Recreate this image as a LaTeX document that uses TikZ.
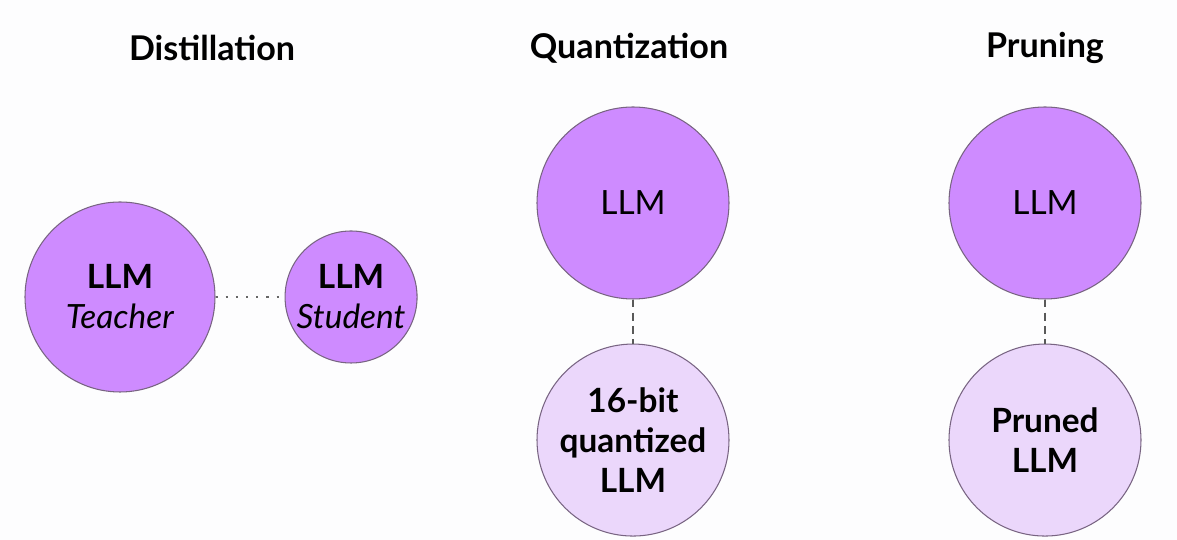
\documentclass[tikz,border=0pt]{standalone}
\usepackage{fontspec}
\setsansfont{Lato}
\RequirePackage{xcolor}
\definecolor{llmdark}{RGB}{206,139,255}
\definecolor{llmlight}{RGB}{235,215,251}
\definecolor{llmline}{RGB}{120,100,130}
\definecolor{bgwhite}{RGB}{253,253,254}
\tikzset{every picture/.style={/utils/exec={\sffamily}}}
\usetikzlibrary{positioning}

\begin{document}
\begin{tikzpicture}
  \fill [bgwhite] (0,0) rectangle (23.54,10.8);
  \useasboundingbox (0,0) rectangle (23.54,10.8);

  \begin{scope}[every node/.style={circle, draw=llmline, line width=0.6pt, align=center, inner sep=0pt, font=\fontsize{19}{22.8}\selectfont}]
    \node [fill=llmdark, minimum size=3.8cm] (teacher) at (2.4,4.86) {\textbf{LLM}\\\textit{Teacher}}; 
    \node [fill=llmdark, minimum size=2.64cm, right=1.38cm of teacher] (student) {\textbf{LLM}\\\textit{Student}}; 

    \node [fill=llmdark, minimum size=3.84cm] (qllm) at (12.66,6.74) {LLM}; 
    \node [fill=llmlight, minimum size=3.84cm, below=0.88cm of qllm] (qbit) {\textbf{16-bit}\\\textbf{quantized}\\\textbf{LLM}}; 

    \node [fill=llmdark, minimum size=3.84cm] (pllm) at (20.9,6.74) {LLM}; 
    \node [fill=llmlight, minimum size=3.84cm, below=0.88cm of pllm] (pruned) {\textbf{Pruned}\\\textbf{LLM}}; 
  \end{scope}


  \begin{scope}[every node/.style={font=\fontsize{19.4}{22}\selectfont\bfseries}]
    \node (distill) at (4.24,9.84) {Distillation}; 
    \node (quant) at (12.58,9.84) {Quantization}; 
    \node (prune) at (20.9,9.84) {Pruning}; 
  \end{scope}


  \draw [gray!80!black, line width=1pt, dash pattern=on 1.2pt off 4.6pt]  (teacher) -- (student); 
  \draw [gray!70!black, line width=1pt, dash pattern=on 4.5pt off 3pt]  (qllm) -- (qbit); 
  \draw [gray!70!black, line width=1pt, dash pattern=on 4.5pt off 3pt]  (pllm) -- (pruned); 

\end{tikzpicture}
\end{document}
